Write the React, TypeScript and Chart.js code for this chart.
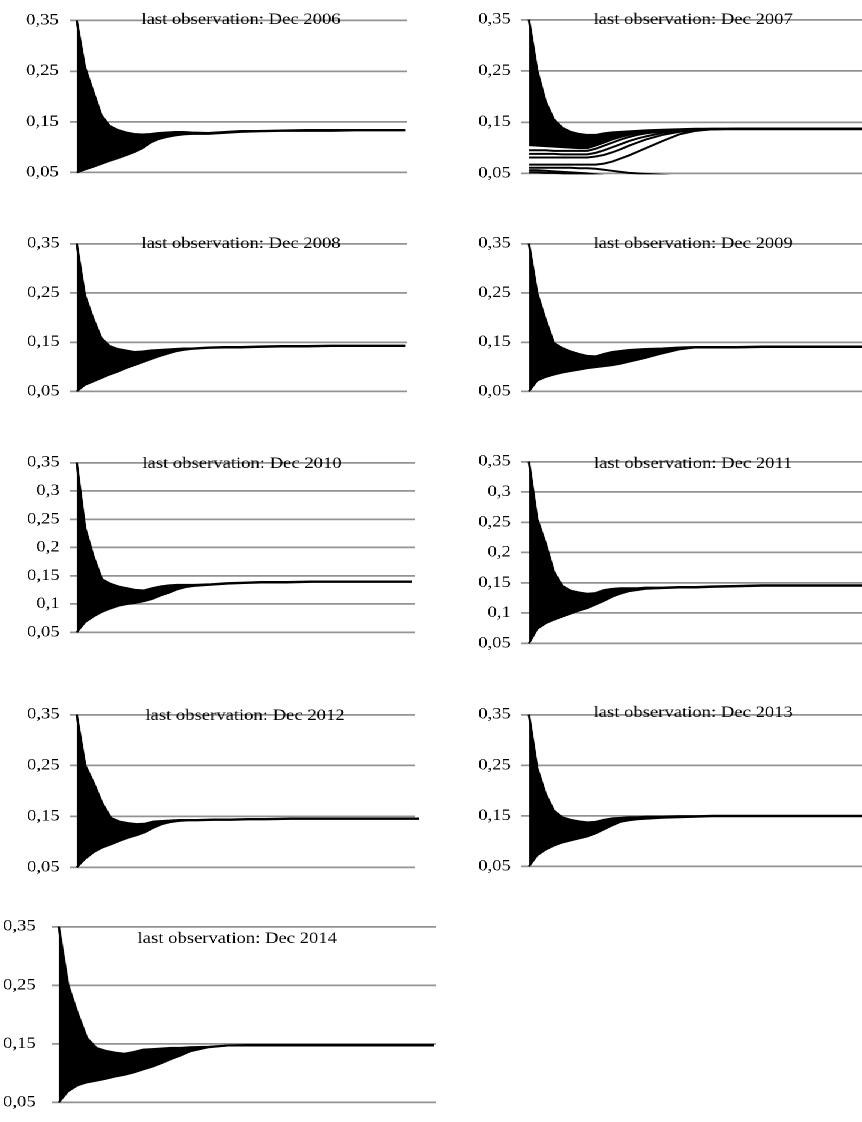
import React, { useEffect, useRef } from 'react';
import { Chart, registerables } from 'chart.js';

Chart.register(...registerables);

// ---------------- data ----------------
const horizons = [0, 1, 2, 3, 4, 5, 6, 7, 8, 9, 10, 11, 12, 13, 14, 16, 18, 20, 22, 25, 28, 31, 34, 37, 40];

const titles = [
  'last observation: Dec 2006',
  'last observation: Dec 2007',
  'last observation: Dec 2008',
  'last observation: Dec 2009',
  'last observation: Dec 2010',
  'last observation: Dec 2011',
  'last observation: Dec 2012',
  'last observation: Dec 2013',
  'last observation: Dec 2014',
];

const ticksCoarse = [0.05, 0.15, 0.25, 0.35];
const ticksCoarseLabels = ['0,05', '0,15', '0,25', '0,35'];
const ticksFine = [0.05, 0.1, 0.15, 0.2, 0.25, 0.3, 0.35];
const ticksFineLabels = ['0,05', '0,1', '0,15', '0,2', '0,25', '0,3', '0,35'];

// upper / lower envelopes of the forecast fan for each vintage
const upper2006 = [0.350, 0.258, 0.210, 0.163, 0.142, 0.134, 0.129, 0.126, 0.125, 0.126, 0.128, 0.129, 0.130, 0.130, 0.129, 0.128, 0.130, 0.132, 0.132, 0.133, 0.134, 0.134, 0.134, 0.134, 0.134];
const lower2006 = [0.050, 0.056, 0.061, 0.067, 0.073, 0.078, 0.084, 0.090, 0.098, 0.109, 0.116, 0.120, 0.123, 0.125, 0.126, 0.126, 0.128, 0.130, 0.131, 0.132, 0.132, 0.132, 0.133, 0.133, 0.133];

const upper2007 = [0.350, 0.250, 0.190, 0.155, 0.139, 0.131, 0.127, 0.125, 0.125, 0.128, 0.130, 0.131, 0.132, 0.133, 0.134, 0.135, 0.136, 0.137, 0.137, 0.137, 0.137, 0.137, 0.137, 0.137, 0.137];
const lower2007 = [0.105, 0.104, 0.103, 0.102, 0.101, 0.100, 0.099, 0.099, 0.104, 0.110, 0.116, 0.121, 0.125, 0.128, 0.130, 0.133, 0.135, 0.136, 0.136, 0.136, 0.136, 0.136, 0.136, 0.136, 0.136];
const lineA2007 = [0.095, 0.095, 0.095, 0.094, 0.094, 0.094, 0.094, 0.094, 0.098, 0.104, 0.110, 0.116, 0.121, 0.125, 0.128, 0.132, 0.135, 0.136, 0.137, 0.137, 0.137, 0.137, 0.137, 0.137, 0.137];
const lineB2007 = [0.088, 0.088, 0.088, 0.088, 0.087, 0.087, 0.087, 0.087, 0.090, 0.095, 0.101, 0.107, 0.113, 0.118, 0.122, 0.129, 0.133, 0.135, 0.136, 0.137, 0.137, 0.137, 0.137, 0.137, 0.137];
const lineC2007 = [0.081, 0.081, 0.081, 0.081, 0.081, 0.081, 0.081, 0.081, 0.083, 0.086, 0.091, 0.097, 0.104, 0.110, 0.116, 0.125, 0.131, 0.134, 0.136, 0.137, 0.137, 0.137, 0.137, 0.137, 0.137];
const lineD2007 = [0.067, 0.067, 0.067, 0.067, 0.067, 0.067, 0.067, 0.067, 0.067, 0.069, 0.073, 0.079, 0.085, 0.092, 0.099, 0.113, 0.126, 0.133, 0.136, 0.137, 0.137, 0.137, 0.137, 0.137, 0.137];
const lineE2007 = [0.061, 0.061, 0.061, 0.061, 0.061, 0.061, 0.060, 0.060, 0.059, 0.057, 0.055, 0.053, 0.051, 0.050, 0.049, 0.047, 0.045, 0.044, 0.043, 0.042, 0.041, 0.040, 0.040, 0.040, 0.040];
const lineF2007 = [0.056, 0.056, 0.055, 0.054, 0.053, 0.052, 0.051, 0.050, 0.048, 0.046, 0.045, 0.044, 0.043, 0.042, 0.041, 0.040, 0.040, 0.040, 0.040, 0.040, 0.040, 0.040, 0.040, 0.040, 0.040];
const lineG2007 = [0.052, 0.052, 0.051, 0.051, 0.050, 0.049, 0.048, 0.047, 0.046, 0.045, 0.044, 0.043, 0.042, 0.041, 0.040, 0.040, 0.040, 0.040, 0.040, 0.040, 0.040, 0.040, 0.040, 0.040, 0.040];

const upper2008 = [0.350, 0.245, 0.198, 0.158, 0.142, 0.136, 0.133, 0.130, 0.131, 0.133, 0.134, 0.135, 0.136, 0.137, 0.137, 0.139, 0.140, 0.140, 0.141, 0.142, 0.142, 0.143, 0.143, 0.143, 0.143];
const lower2008 = [0.050, 0.063, 0.070, 0.077, 0.084, 0.090, 0.097, 0.103, 0.109, 0.115, 0.121, 0.126, 0.131, 0.134, 0.136, 0.138, 0.139, 0.139, 0.140, 0.141, 0.141, 0.142, 0.142, 0.142, 0.142];

const upper2009 = [0.350, 0.249, 0.195, 0.148, 0.138, 0.131, 0.126, 0.122, 0.121, 0.126, 0.130, 0.132, 0.134, 0.135, 0.136, 0.137, 0.139, 0.140, 0.140, 0.140, 0.141, 0.141, 0.141, 0.141, 0.141];
const lower2009 = [0.050, 0.072, 0.079, 0.084, 0.088, 0.091, 0.094, 0.097, 0.099, 0.101, 0.103, 0.106, 0.110, 0.114, 0.118, 0.127, 0.135, 0.139, 0.139, 0.139, 0.140, 0.140, 0.140, 0.140, 0.140];

const upper2010 = [0.350, 0.235, 0.184, 0.144, 0.136, 0.131, 0.128, 0.125, 0.124, 0.128, 0.131, 0.133, 0.134, 0.134, 0.134, 0.135, 0.137, 0.138, 0.139, 0.139, 0.140, 0.140, 0.140, 0.140, 0.140];
const lower2010 = [0.050, 0.068, 0.078, 0.086, 0.092, 0.097, 0.100, 0.102, 0.105, 0.109, 0.115, 0.120, 0.126, 0.130, 0.132, 0.134, 0.136, 0.137, 0.138, 0.138, 0.139, 0.139, 0.139, 0.139, 0.139];

const upper2011 = [0.350, 0.255, 0.215, 0.168, 0.145, 0.137, 0.134, 0.132, 0.133, 0.138, 0.140, 0.141, 0.141, 0.141, 0.142, 0.142, 0.143, 0.143, 0.144, 0.145, 0.146, 0.146, 0.146, 0.146, 0.146];
const lower2011 = [0.050, 0.074, 0.083, 0.089, 0.094, 0.099, 0.104, 0.108, 0.114, 0.120, 0.127, 0.132, 0.136, 0.138, 0.140, 0.141, 0.142, 0.142, 0.143, 0.144, 0.145, 0.145, 0.145, 0.145, 0.145];

const upper2012 = [0.350, 0.250, 0.215, 0.175, 0.147, 0.140, 0.137, 0.135, 0.136, 0.140, 0.141, 0.142, 0.143, 0.143, 0.143, 0.144, 0.144, 0.145, 0.145, 0.146, 0.146, 0.146, 0.146, 0.146, 0.146];
const lower2012 = [0.050, 0.067, 0.080, 0.089, 0.095, 0.102, 0.108, 0.113, 0.119, 0.128, 0.135, 0.139, 0.141, 0.142, 0.142, 0.143, 0.143, 0.144, 0.144, 0.145, 0.145, 0.145, 0.145, 0.145, 0.145];

const upper2013 = [0.350, 0.244, 0.193, 0.160, 0.147, 0.142, 0.139, 0.137, 0.138, 0.142, 0.145, 0.146, 0.147, 0.147, 0.148, 0.148, 0.149, 0.149, 0.150, 0.150, 0.150, 0.150, 0.150, 0.150, 0.150];
const lower2013 = [0.050, 0.072, 0.083, 0.091, 0.097, 0.101, 0.105, 0.109, 0.115, 0.123, 0.131, 0.138, 0.141, 0.143, 0.144, 0.146, 0.147, 0.148, 0.149, 0.149, 0.149, 0.149, 0.149, 0.149, 0.149];

const upper2014 = [0.350, 0.250, 0.202, 0.160, 0.143, 0.138, 0.135, 0.133, 0.136, 0.140, 0.141, 0.142, 0.143, 0.143, 0.144, 0.145, 0.147, 0.148, 0.148, 0.148, 0.148, 0.148, 0.148, 0.148, 0.148];
const lower2014 = [0.050, 0.069, 0.079, 0.084, 0.087, 0.090, 0.094, 0.097, 0.101, 0.106, 0.111, 0.117, 0.124, 0.130, 0.137, 0.144, 0.147, 0.147, 0.147, 0.147, 0.147, 0.147, 0.147, 0.147, 0.147];

// ---------------- layout (page pixels) ----------------
const S = 1.2; // horizontal stretch of the original figure
const PAGE_W = 862;
const PAGE_H = 1122;
const INNER_W = PAGE_W / S;
const HMAX = 40;

type PanelCfg = {
  title: string;
  upper: number[];
  lower: number[];
  extra: number[][];
  fine: boolean;
  gl: number; gr: number; ds: number; de: number; gt: number; gb: number;
  gap: number; tx: number; ty: number;
};

const panels: PanelCfg[] = [
  { title: titles[0], upper: upper2006, lower: lower2006, extra: [], fine: false, gl: 70, gr: 407, ds: 77, de: 405, gt: 14, gb: 179, gap: 11, tx: 241, ty: 24 },
  { title: titles[1], upper: upper2007, lower: lower2007, extra: [lineA2007, lineB2007, lineC2007, lineD2007, lineE2007, lineF2007, lineG2007], fine: false, gl: 521, gr: 866, ds: 529, de: 862, gt: 14, gb: 179, gap: 10, tx: 693, ty: 24 },
  { title: titles[2], upper: upper2008, lower: lower2008, extra: [], fine: false, gl: 70, gr: 407, ds: 77, de: 405, gt: 238, gb: 397, gap: 10, tx: 241, ty: 248 },
  { title: titles[3], upper: upper2009, lower: lower2009, extra: [], fine: false, gl: 521, gr: 866, ds: 529, de: 862, gt: 238, gb: 397, gap: 10, tx: 693, ty: 248 },
  { title: titles[4], upper: upper2010, lower: lower2010, extra: [], fine: true, gl: 70, gr: 415, ds: 77, de: 412, gt: 457, gb: 638, gap: 10, tx: 242, ty: 468 },
  { title: titles[5], upper: upper2011, lower: lower2011, extra: [], fine: true, gl: 521, gr: 866, ds: 529, de: 862, gt: 456, gb: 649, gap: 10, tx: 693, ty: 468 },
  { title: titles[6], upper: upper2012, lower: lower2012, extra: [], fine: false, gl: 70, gr: 415, ds: 77, de: 419, gt: 709, gb: 873, gap: 10, tx: 245, ty: 720 },
  { title: titles[7], upper: upper2013, lower: lower2013, extra: [], fine: false, gl: 521, gr: 866, ds: 529, de: 862, gt: 709, gb: 872, gap: 10, tx: 693, ty: 717 },
  { title: titles[8], upper: upper2014, lower: lower2014, extra: [], fine: false, gl: 52, gr: 435, ds: 59, de: 433, gt: 916, gb: 1113, gap: 16, tx: 237, ty: 943 },
];

const AW = 50; // y-axis box width (inner px)
const RP = 8;  // right padding (inner px)
const PT = 12;
const PB = 12;
const FONT = '"Liberation Serif", "Times New Roman", serif';
const FONT_SIZE = 15.5;

const titlePlugin = {
  id: 'panelTitle',
  afterDatasetsDraw(chart: any, _args: any, opts: any) {
    const ctx = chart.ctx;
    ctx.save();
    ctx.font = `${FONT_SIZE}px ${FONT}`;
    ctx.fillStyle = '#000';
    ctx.textAlign = 'center';
    ctx.textBaseline = 'alphabetic';
    ctx.fillText(opts.text, opts.x, opts.y);
    ctx.restore();
  },
};

function Panel({ cfg }: { cfg: PanelCfg }) {
  const ref = useRef<HTMLCanvasElement>(null);
  const left = cfg.gl / S - AW;
  const top = cfg.gt - PT;
  const plotW = (cfg.gr - cfg.gl) / S;
  const width = AW + plotW + RP;
  const height = cfg.gb - cfg.gt + PT + PB;

  useEffect(() => {
    if (!ref.current) return;
    const dx = (cfg.de - cfg.ds) / HMAX;
    const xMin = -(cfg.ds - cfg.gl) / dx;
    const xMax = HMAX + (cfg.gr - cfg.de) / dx;
    const tickVals = cfg.fine ? ticksFine : ticksCoarse;
    const tickLabels = cfg.fine ? ticksFineLabels : ticksCoarseLabels;
    const clip = { left: 6, right: 10, top: 3, bottom: 1 };
    const toPts = (arr: number[]) => horizons.map((h, k) => ({ x: h, y: arr[k] }));
    const datasets: any[] = [
      { data: toPts(cfg.upper), borderColor: '#000', borderWidth: 2, pointRadius: 0, fill: false, clip },
      { data: toPts(cfg.lower), borderColor: '#000', borderWidth: 1.8, pointRadius: 0, fill: '-1', backgroundColor: '#000', clip },
      ...cfg.extra.map((arr) => ({ data: toPts(arr), borderColor: '#000', borderWidth: 2, pointRadius: 0, fill: false, clip })),
    ];
    const chart = new Chart(ref.current, {
      type: 'line',
      data: { datasets },
      options: {
        animation: false,
        responsive: true,
        maintainAspectRatio: false,
        devicePixelRatio: 2,
        layout: { padding: { left: 0, right: RP, top: PT, bottom: PB } },
        plugins: {
          legend: { display: false },
          tooltip: { enabled: false },
          panelTitle: { text: cfg.title, x: cfg.tx / S - left, y: cfg.ty - top },
        } as any,
        scales: {
          x: { type: 'linear', display: false, min: xMin, max: xMax },
          y: {
            type: 'linear',
            min: 0.05,
            max: 0.35,
            afterBuildTicks: (scale: any) => {
              scale.ticks = tickVals.map((v) => ({ value: v }));
            },
            afterFit: (scale: any) => {
              scale.width = AW;
            },
            ticks: {
              autoSkip: false,
              padding: cfg.gap / S,
              color: '#000',
              font: { family: FONT, size: FONT_SIZE },
              callback: (value: any) => {
                const idx = tickVals.findIndex((v) => Math.abs(v - Number(value)) < 1e-9);
                return idx >= 0 ? tickLabels[idx] : '';
              },
            },
            grid: { color: '#939393', lineWidth: 1.7, drawTicks: false },
            border: { display: false },
          },
        },
      },
      plugins: [titlePlugin],
    });
    return () => chart.destroy();
  }, [cfg]);

  return (
    <div style={{ position: 'absolute', left, top, width, height }}>
      <canvas ref={ref} />
    </div>
  );
}

export default function App() {
  return (
    <div style={{ position: 'absolute', left: 0, top: 0, width: PAGE_W, height: PAGE_H, overflow: 'hidden', background: '#fff' }}>
      <div style={{ position: 'absolute', left: 0, top: 0, width: INNER_W, height: PAGE_H, transform: `scaleX(${S})`, transformOrigin: '0 0' }}>
        {panels.map((p) => (
          <Panel key={p.title} cfg={p} />
        ))}
      </div>
    </div>
  );
}
